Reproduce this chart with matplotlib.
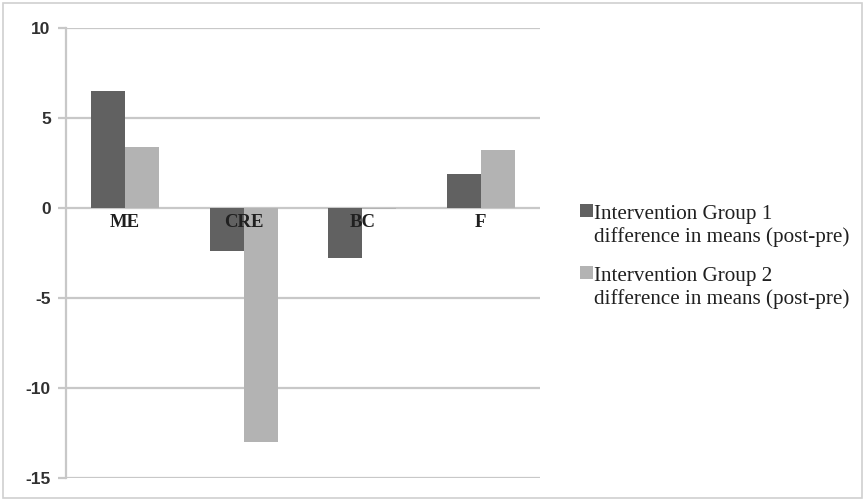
import matplotlib
matplotlib.use("Agg")
import matplotlib.pyplot as plt
import numpy as np
from matplotlib.patches import Rectangle
from matplotlib.legend_handler import HandlerPatch

categories = ["ME", "CRE", "BC", "F"]
group1 = [6.5, -2.4, -2.75, 1.9]
group2 = [3.4, -13.0, -0.05, 3.2]
series_labels = ["Intervention Group 1\ndifference in means (post-pre)",
                 "Intervention Group 2\ndifference in means (post-pre)"]
yticks = [-15, -10, -5, 0, 5, 10]

fig = plt.figure(figsize=(8.64, 5.01), dpi=100)
ax = fig.add_axes([66/864, 1-478/501, (540-66)/864, (478-28)/501])

x = np.arange(len(categories))
w = 1/3.5
c1, c2 = "#616161", "#b3b3b3"
b1 = ax.bar(x - w/2, group1, w, color=c1, zorder=2, label=series_labels[0])
b2 = ax.bar(x + w/2, group2, w, color=c2, zorder=2, label=series_labels[1])

ax.spines["bottom"].set_position(("data", 0))
ax.spines["bottom"].set_visible(False)
for s in ["top", "right"]:
    ax.spines[s].set_visible(False)
ax.spines["left"].set_color("#c8c8c8")
ax.spines["left"].set_linewidth(1.6)

ax.set_xlim(-0.5, len(categories) - 0.5)
ax.set_ylim(-15, 10)
ax.set_yticks(yticks)
ax.set_yticklabels([str(v) for v in yticks], fontfamily="Liberation Sans",
                   fontweight="bold", fontsize=12.5, color="#303030")
ax.yaxis.grid(True, color="#c8c8c8", linewidth=1.6)
ax.set_axisbelow(True)
ax.tick_params(axis="y", length=6, width=1.6, color="#c8c8c8", pad=5)

ax.set_xticks(x)
ax.set_xticklabels(categories, fontfamily="Liberation Serif", fontsize=13.5,
                   fontweight="bold", color="#202020")
ax.tick_params(axis="x", length=0, pad=4)
ax.xaxis.set_zorder(5)


def top_square(legend, orig_handle, xdescent, ydescent, width, height, fontsize):
    s = 0.6 * fontsize
    return Rectangle((-xdescent + width - s, -ydescent + height / 2 - s / 2 + 0.72 * fontsize),
                     s, s)


h1, h2 = b1.patches[0], b2.patches[0]
leg = fig.legend(handles=[h1, h2], labels=series_labels, loc="upper left",
                 bbox_to_anchor=(561/864, 1-186/501), frameon=False,
                 prop={"family": "Liberation Serif", "size": 15.2},
                 handlelength=0.6, handleheight=0.6, handletextpad=0.05,
                 labelspacing=0.95,
                 handler_map={h1: HandlerPatch(patch_func=top_square),
                              h2: HandlerPatch(patch_func=top_square)})
for t in leg.get_texts():
    t.set_linespacing(1.2)
    t.set_color("#202020")

fig.patches.append(Rectangle((3/864, 3/501), 859/864, 495/501, transform=fig.transFigure,
                             fill=False, edgecolor="#d0d0d0", linewidth=1.2))

fig.savefig("out.png", dpi=100)
